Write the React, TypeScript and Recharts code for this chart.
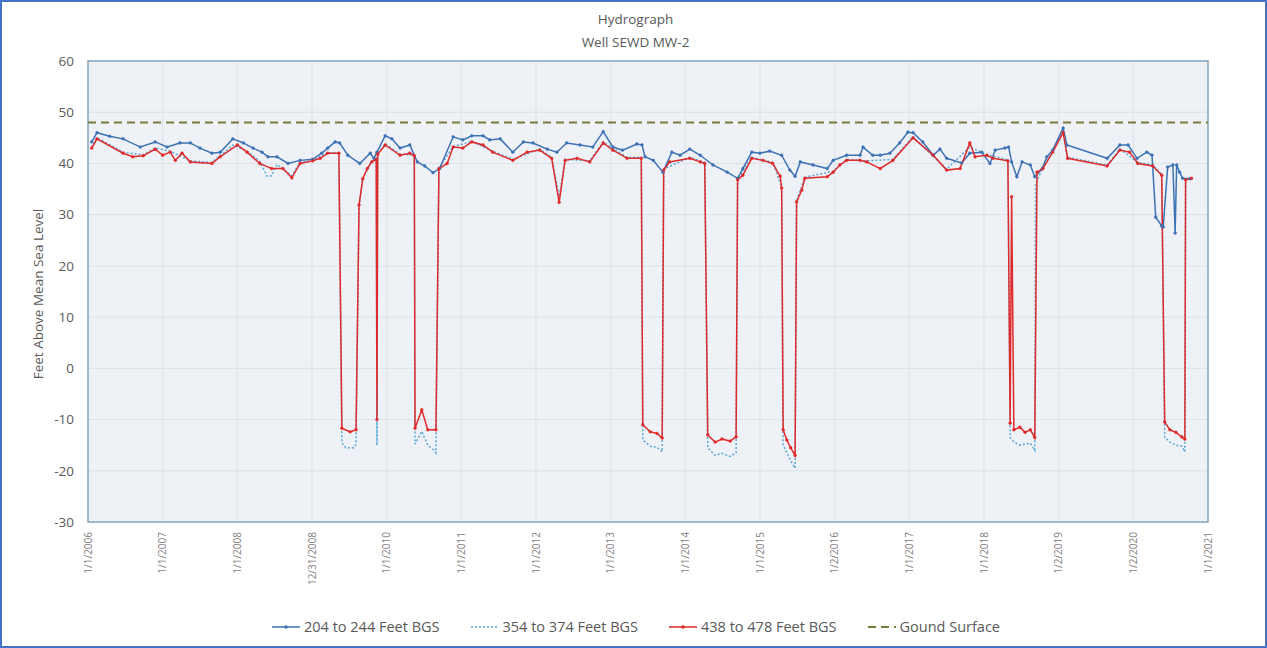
import React from "react";
import {
  LineChart,
  Line,
  XAxis,
  YAxis,
  CartesianGrid,
  ReferenceArea,
} from "recharts";

type Pt = [number, number];

// x axis: one tick per year, labels as printed on the original sheet
const yearTicks = [2006, 2007, 2008, 2009, 2010, 2011, 2012, 2013, 2014, 2015, 2016, 2017, 2018, 2019, 2020, 2021];
const yearTickLabels = [
  "1/1/2006", "1/1/2007", "1/1/2008", "12/31/2008", "1/1/2010", "1/1/2011", "1/1/2012", "1/1/2013",
  "1/1/2014", "1/1/2015", "1/2/2016", "1/1/2017", "1/1/2018", "1/2/2019", "1/2/2020", "1/1/2021",
];
const levelTicks = [-30, -20, -10, 0, 10, 20, 30, 40, 50, 60];

const groundSurface: Pt[] = [[2006, 48], [2021, 48]];

// 204 to 244 Feet BGS
const well204to244: Pt[] = [
  [2006.05, 44.2], [2006.12, 46], [2006.29, 45.3], [2006.47, 44.8], [2006.7, 43.2], [2006.9, 44.2],
  [2007.06, 43.2], [2007.23, 44], [2007.37, 44], [2007.5, 43], [2007.66, 42], [2007.77, 42.2],
  [2007.94, 44.8], [2008.08, 44], [2008.21, 43], [2008.33, 42.2], [2008.41, 41.3], [2008.53, 41.3],
  [2008.68, 40], [2008.84, 40.6], [2009.01, 40.8], [2009.13, 42], [2009.21, 43], [2009.31, 44.2],
  [2009.37, 44], [2009.48, 41.6], [2009.64, 40], [2009.78, 42], [2009.83, 41], [2009.87, 42.2],
  [2009.98, 45.4], [2010.07, 44.8], [2010.18, 43], [2010.31, 43.6], [2010.41, 40.3], [2010.51, 39.5],
  [2010.62, 38.2], [2010.71, 39], [2010.89, 45.2], [2011.02, 44.6], [2011.14, 45.4], [2011.29, 45.4],
  [2011.38, 44.6], [2011.52, 44.8], [2011.69, 42.2], [2011.83, 44.2], [2011.96, 44], [2012.15, 42.8],
  [2012.28, 42.2], [2012.41, 44], [2012.59, 43.6], [2012.76, 43.2], [2012.9, 46.2], [2013.03, 43.2],
  [2013.16, 42.6], [2013.35, 43.8], [2013.42, 43.6], [2013.46, 41.3], [2013.57, 40.6], [2013.7, 38.3],
  [2013.82, 42.2], [2013.93, 41.6], [2014.06, 42.8], [2014.2, 41.6], [2014.37, 39.7], [2014.56, 38.3],
  [2014.7, 37.1], [2014.77, 39], [2014.89, 42.2], [2015.0, 42], [2015.13, 42.4], [2015.29, 41.6],
  [2015.4, 38.7], [2015.47, 37.5], [2015.54, 40.3], [2015.71, 39.7], [2015.9, 39], [2015.98, 40.6],
  [2016.16, 41.6], [2016.34, 41.6], [2016.38, 43.2], [2016.51, 41.6], [2016.61, 41.6], [2016.74, 42],
  [2016.87, 44], [2016.98, 46.1], [2017.05, 46], [2017.18, 44.2], [2017.32, 41.6], [2017.41, 42.8],
  [2017.5, 41], [2017.7, 40.1], [2017.81, 42], [2017.97, 42.2], [2018.08, 40], [2018.15, 42.6],
  [2018.28, 43], [2018.33, 43.2], [2018.37, 40.3], [2018.44, 37.4], [2018.51, 40.3], [2018.62, 39.7],
  [2018.68, 37.4], [2018.78, 39], [2018.84, 41.3], [2018.92, 42.6], [2019.06, 46.9], [2019.11, 43.6],
  [2019.65, 41], [2019.82, 43.6], [2019.93, 43.6], [2020.05, 41], [2020.18, 42.2], [2020.25, 41.6],
  [2020.3, 29.5], [2020.38, 27.8], [2020.4, 27.6], [2020.46, 39.3], [2020.53, 39.7], [2020.56, 26.4],
  [2020.58, 39.7], [2020.62, 38.3], [2020.66, 37.1], [2020.76, 37],
];

// 354 to 374 Feet BGS
const well354to374: Pt[] = [
  [2006.05, 43.2], [2006.12, 45], [2006.47, 42.2], [2006.74, 41.7], [2006.9, 43], [2007.1, 42.4],
  [2007.37, 40.5], [2007.66, 40.2], [2007.94, 43.6], [2008.13, 42.4], [2008.3, 40.4], [2008.4, 37.5],
  [2008.46, 37.6], [2008.53, 39.8], [2008.73, 37.6], [2008.84, 40.2], [2009.01, 40.6], [2009.21, 42.1],
  [2009.36, 42.1], [2009.4, -14.5], [2009.45, -15.5], [2009.56, -15.5], [2009.59, -14.8], [2009.63, 31.5],
  [2009.68, 37.1], [2009.8, 40.4], [2009.86, 41], [2009.87, -15], [2009.88, 41.9], [2009.98, 43.8],
  [2010.18, 41.8], [2010.37, 41.6], [2010.38, -14.8], [2010.47, -12.3], [2010.55, -15], [2010.62, -15.8],
  [2010.66, -16.5], [2010.7, 39.1], [2010.89, 43.3], [2011.14, 44.3], [2011.42, 42.4], [2011.69, 40.8],
  [2012.05, 42.8], [2012.21, 41.2], [2012.31, 33.5], [2012.39, 40.8], [2012.72, 40.5], [2012.9, 44.2],
  [2013.22, 41.2], [2013.41, 41.2], [2013.43, -14], [2013.53, -15.2], [2013.62, -15.4], [2013.69, -16.3],
  [2013.71, 38.9], [2014.06, 41.2], [2014.26, 40.2], [2014.3, -15.5], [2014.4, -17], [2014.49, -16.6],
  [2014.6, -17.2], [2014.68, -16.5], [2014.7, 37], [2014.89, 41.2], [2015.17, 40.2], [2015.29, 35.4],
  [2015.31, -15], [2015.41, -18], [2015.47, -19.5], [2015.49, 32.7], [2015.6, 37.3], [2015.98, 38.5],
  [2016.16, 40.8], [2016.43, 40.5], [2016.78, 40.8], [2017.05, 45.2], [2017.5, 38.9], [2017.81, 43.2],
  [2018.04, 41.7], [2018.32, 40.7], [2018.35, -13.5], [2018.4, -14.4], [2018.48, -15], [2018.55, -14.8],
  [2018.62, -14.6], [2018.68, -16], [2018.69, 36], [2018.79, 39.2], [2019.06, 46.2], [2019.12, 41.2],
  [2019.65, 39.7], [2019.82, 42.8], [2020.06, 40.2], [2020.26, 39.7], [2020.38, 37.9], [2020.42, -13.5],
  [2020.49, -14.4], [2020.57, -15], [2020.65, -15.2], [2020.69, -16.3], [2020.7, 37], [2020.78, 37.2],
];

// 438 to 478 Feet BGS
const well438to478: Pt[] = [
  [2006.05, 43], [2006.12, 44.8], [2006.47, 42], [2006.6, 41.3], [2006.74, 41.5], [2006.9, 42.8],
  [2007.0, 41.6], [2007.1, 42.2], [2007.17, 40.6], [2007.26, 42], [2007.37, 40.3], [2007.66, 40],
  [2007.77, 41.3], [2008.0, 43.6], [2008.13, 42.2], [2008.3, 40], [2008.46, 39], [2008.61, 39],
  [2008.73, 37.2], [2008.84, 40], [2009.01, 40.5], [2009.11, 41], [2009.21, 42], [2009.36, 42],
  [2009.4, -11.7], [2009.51, -12.4], [2009.59, -12], [2009.63, 31.9], [2009.68, 37], [2009.74, 39],
  [2009.8, 40.3], [2009.86, 40.8], [2009.87, -10], [2009.88, 41.8], [2009.98, 43.6], [2010.18, 41.6],
  [2010.31, 42], [2010.37, 41.5], [2010.38, -11.7], [2010.47, -8.1], [2010.55, -12], [2010.66, -12],
  [2010.7, 39], [2010.81, 40], [2010.89, 43.2], [2011.02, 43], [2011.14, 44.2], [2011.29, 43.6],
  [2011.42, 42.2], [2011.69, 40.6], [2011.88, 42.2], [2012.05, 42.6], [2012.21, 41], [2012.31, 32.4],
  [2012.39, 40.6], [2012.55, 41], [2012.72, 40.3], [2012.9, 44], [2013.03, 42.6], [2013.22, 41],
  [2013.41, 41], [2013.43, -11], [2013.53, -12.4], [2013.62, -12.7], [2013.69, -13.6], [2013.71, 38.7],
  [2013.79, 40.3], [2014.06, 41], [2014.2, 40.3], [2014.26, 40], [2014.3, -13], [2014.4, -14.4],
  [2014.49, -13.8], [2014.6, -14.2], [2014.68, -13.4], [2014.7, 36.8], [2014.77, 37.7], [2014.89, 41],
  [2015.04, 40.6], [2015.17, 40], [2015.27, 37.5], [2015.29, 35.2], [2015.31, -12], [2015.36, -14],
  [2015.41, -15.5], [2015.47, -17], [2015.49, 32.5], [2015.56, 34.8], [2015.6, 37.1], [2015.9, 37.4],
  [2015.98, 38.3], [2016.07, 39.7], [2016.16, 40.6], [2016.34, 40.6], [2016.43, 40.3], [2016.61, 39],
  [2016.78, 40.6], [2017.05, 45], [2017.32, 41.6], [2017.5, 38.7], [2017.68, 39], [2017.81, 44],
  [2017.88, 41.3], [2018.04, 41.6], [2018.12, 41], [2018.32, 40.5], [2018.35, -10.7], [2018.37, 33.5],
  [2018.4, -12], [2018.48, -11.5], [2018.55, -12.5], [2018.62, -12], [2018.68, -13.5], [2018.71, 38.3],
  [2018.79, 39], [2018.92, 42.2], [2019.06, 46], [2019.12, 41], [2019.65, 39.5], [2019.82, 42.6],
  [2019.95, 42.2], [2020.06, 40], [2020.26, 39.5], [2020.38, 37.7], [2020.42, -10.5], [2020.49, -12],
  [2020.57, -12.5], [2020.65, -13.4], [2020.69, -13.8], [2020.7, 36.8], [2020.78, 37.1],
];

const SHALLOW = "#3d72b4";
const MIDDLE = "#5aa6d6";
const DEEP = "#de2a2a";
const GROUND = "#7a7a3a";
const TEXT = "#595959";
const FONT = "'Open Sans', 'Noto Sans', sans-serif";

const toRows = (pts: Pt[]) => pts.map(([x, level]) => ({ x, level }));

const YearTick = (props: any) => {
  const { x, y, payload, index } = props;
  const ty = y + 2;
  return (
    <text
      x={x}
      y={ty}
      transform={`rotate(-90 ${x} ${ty})`}
      textAnchor="end"
      dy="0.35em"
      fontSize={10}
      fill="#808080"
      fontFamily={FONT}
    >
      {yearTickLabels[index] ?? String(payload.value)}
    </text>
  );
};

const LegendItem = ({ color, dash, dot, label }: { color: string; dash?: string; dot?: boolean; label: string }) => (
  <div style={{ display: "flex", alignItems: "center", gap: 3 }}>
    <svg width={30} height={10}>
      <line x1={1} y1={5} x2={29} y2={5} stroke={color} strokeWidth={dash === "8 5" ? 2 : 1.5} strokeDasharray={dash} />
      {dot && <circle cx={15} cy={5} r={1.8} fill={color} />}
    </svg>
    <span>{label}</span>
  </div>
);

export default function App() {
  return (
    <div
      style={{
        position: "absolute",
        left: 0,
        top: 0,
        width: 1267,
        height: 648,
        boxSizing: "border-box",
        border: "2px solid #4472c4",
        background: "#ffffff",
        fontFamily: FONT,
        color: TEXT,
      }}
    >
      <div style={{ position: "absolute", left: 0, top: 0, width: 1267, height: 648 }}>
        <LineChart width={1263} height={644} margin={{ top: 59, right: 57, left: 26, bottom: 54 }}>
          <CartesianGrid fill="#eef1f6" stroke="#dde1e7" strokeWidth={1} />
          <XAxis
            type="number"
            dataKey="x"
            domain={[2006, 2021]}
            ticks={yearTicks}
            interval={0}
            allowDataOverflow
            tickLine={false}
            axisLine={false}
            height={70}
            tick={<YearTick />}
          />
          <YAxis
            type="number"
            domain={[-30, 60]}
            ticks={levelTicks}
            interval={0}
            allowDataOverflow
            width={60}
            tickLine={false}
            axisLine={false}
            tickMargin={8}
            tick={{ fill: TEXT, fontSize: 13.5, fontFamily: FONT }}
          />
          <ReferenceArea x1={2006} x2={2021} y1={-30} y2={60} fill="none" stroke="#86a7bf" strokeWidth={1.5} />
          <Line
            data={toRows(well354to374)}
            dataKey="level"
            name="354 to 374 Feet BGS"
            stroke={MIDDLE}
            strokeWidth={1.5}
            strokeDasharray="2 2"
            dot={false}
            isAnimationActive={false}
          />
          <Line
            data={toRows(well204to244)}
            dataKey="level"
            name="204 to 244 Feet BGS"
            stroke={SHALLOW}
            strokeWidth={1.5}
            dot={{ r: 1.4, fill: SHALLOW, stroke: SHALLOW, strokeWidth: 0.5 }}
            isAnimationActive={false}
          />
          <Line
            data={toRows(well438to478)}
            dataKey="level"
            name="438 to 478 Feet BGS"
            stroke={DEEP}
            strokeWidth={1.5}
            dot={{ r: 1.4, fill: DEEP, stroke: DEEP, strokeWidth: 0.5 }}
            isAnimationActive={false}
          />
          <Line
            data={toRows(groundSurface)}
            dataKey="level"
            name="Gound Surface"
            stroke={GROUND}
            strokeWidth={2}
            strokeDasharray="8 5"
            dot={false}
            isAnimationActive={false}
          />
        </LineChart>
      </div>

      <div style={{ position: "absolute", left: 0, top: 6, width: 1267, textAlign: "center", fontSize: 13.5, lineHeight: "23px" }}>
        <div>Hydrograph</div>
        <div>Well SEWD MW-2</div>
      </div>

      <div
        style={{
          position: "absolute",
          left: 36,
          top: 292,
          transform: "translate(-50%, -50%) rotate(-90deg)",
          whiteSpace: "nowrap",
          fontSize: 13.5,
        }}
      >
        Feet Above Mean Sea Level
      </div>

      <div
        style={{
          position: "absolute",
          left: 0,
          top: 615,
          width: 1267,
          display: "flex",
          justifyContent: "center",
          gap: 30,
          fontSize: 14.5,
        }}
      >
        <LegendItem color={SHALLOW} dot label="204 to 244 Feet BGS" />
        <LegendItem color={MIDDLE} dash="2 2" label="354 to 374 Feet BGS" />
        <LegendItem color={DEEP} dot label="438 to 478 Feet BGS" />
        <LegendItem color={GROUND} dash="8 5" label="Gound Surface" />
      </div>
    </div>
  );
}
